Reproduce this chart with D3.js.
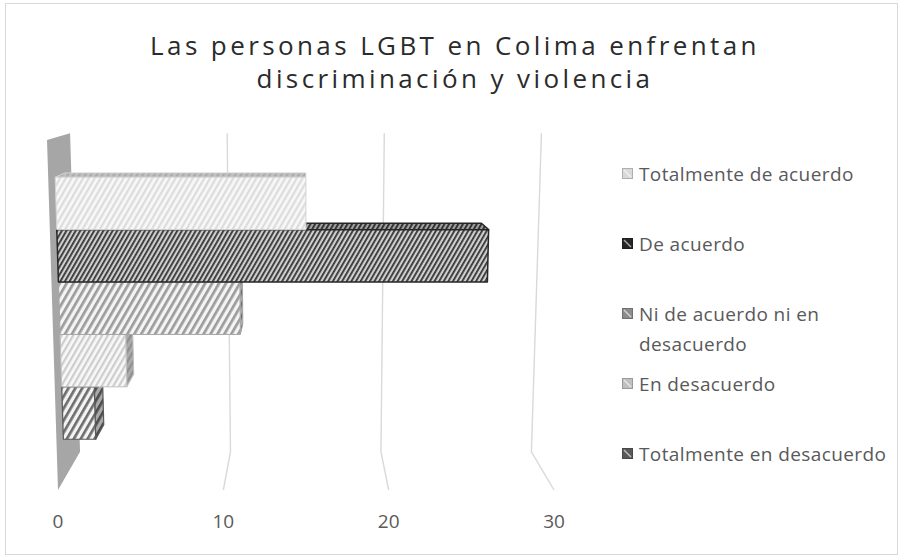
<!DOCTYPE html>
<html>
<head>
<meta charset="utf-8">
<script src="https://cdn.jsdelivr.net/npm/d3@7"></script>
<style>
  body { margin: 0; background: #fff; }
  svg text { font-family: "Open Sans", sans-serif; }
</style>
</head>
<body>
<div id="chart"></div>
<script>
// data
const series = ["Totalmente de acuerdo", "De acuerdo", "Ni de acuerdo ni en desacuerdo", "En desacuerdo", "Totalmente en desacuerdo"];
const values = [15, 26, 11, 4, 2];
const tickValues = [0, 10, 20, 30];
const titleLines = ["Las personas LGBT en Colima enfrentan", "discriminación y violencia"];
const legendLines = [["Totalmente de acuerdo"], ["De acuerdo"], ["Ni de acuerdo ni en", "desacuerdo"], ["En desacuerdo"], ["Totalmente en desacuerdo"]];

// pattern look per series: background, stripe, stripe period, border, legend swatch
const looks = [
    { bg: "#f8f8f8", fg: "#dcdcdc", period: 5, border: "#d4d4d4", bw: 1, swatch: "#d9d9d9" },
    { bg: "#cfcfcf", fg: "#353535", period: 4, border: "#262626", bw: 1.5, swatch: "#262626" },
    { bg: "#f4f4f4", fg: "#9c9c9c", period: 6, border: "#a6a6a6", bw: 1, swatch: "#8c8c8c" },
    { bg: "#f8f8f8", fg: "#cdcdcd", period: 5, border: "#c0c0c0", bw: 1, swatch: "#bfbfbf" },
    { bg: "#f4f4f4", fg: "#6e6e6e", period: 6, border: "#595959", bw: 1.2, swatch: "#595959" }
];

const width = 904, height = 559;

// 3d box: front plane corners and the depth vanishing point
const box = { tl: [47, 140], tr: [565, 140], bl: [58, 490], br: [554, 490] };
const vp = [303, 65];
const depthK = 0.09;
const barDepth = [0.3, 0.72];

const x = d3.scaleLinear().domain([0, 30]).range([0, 1]);
const y = d3.scaleBand().domain(series).range([0, 1]).paddingInner(0).paddingOuter(0.75);

// u: value fraction, t: top->bottom fraction, z: front(0)->back(1)
function proj(u, t, z) {
    let tx = box.tl[0] + (box.tr[0] - box.tl[0]) * u;
    let ty = box.tl[1] + (box.tr[1] - box.tl[1]) * u;
    let bx = box.bl[0] + (box.br[0] - box.bl[0]) * u;
    let by = box.bl[1] + (box.br[1] - box.bl[1]) * u;
    let fx = tx + (bx - tx) * t;
    let fy = ty + (by - ty) * t;
    let s = z * depthK;
    return [fx + s * (vp[0] - fx), fy + s * (vp[1] - fy)];
}

const svg = d3.select("#chart").append("svg")
    .attr("width", width)
    .attr("height", height);

// patterns
let defs = svg.append("defs");
looks.forEach((lk, i) => {
    let p = defs.append("pattern")
        .attr("id", "pat" + i)
        .attr("patternUnits", "userSpaceOnUse")
        .attr("width", lk.period)
        .attr("height", lk.period)
        .attr("patternTransform", "rotate(30)");
    p.append("rect").attr("width", lk.period).attr("height", lk.period).attr("fill", lk.bg);
    p.append("rect").attr("width", lk.period * 0.45).attr("height", lk.period).attr("fill", lk.fg);
});

// chart border
svg.append("rect")
    .attr("x", 5.5).attr("y", 3.5)
    .attr("width", 892).attr("height", 551)
    .attr("fill", "#fff")
    .attr("stroke", "#d9d9d9");

// title
svg.append("g").selectAll("text")
    .data(titleLines)
    .enter().append("text")
    .attr("x", 455)
    .attr("y", (d, i) => 55 + i * 33)
    .attr("text-anchor", "middle")
    .attr("font-size", 26)
    .attr("letter-spacing", 3.4)
    .attr("fill", "#2b2b2b")
    .text(d => d);

let line = d3.line();

// left plane (gray)
svg.append("path")
    .attr("d", line([proj(0, 0, 0), proj(0, 0, 1), proj(0, 1, 1), proj(0, 1, 0)]) + "Z")
    .attr("fill", "#a6a6a6");

// gridlines on back wall and bottom wall
tickValues.filter(v => v > 0).forEach(v => {
    svg.append("path")
        .attr("d", line([proj(x(v), 0, 1), proj(x(v), 1, 1), proj(x(v), 1, 0)]))
        .attr("fill", "none")
        .attr("stroke", "#d9d9d9")
        .attr("stroke-width", 1.4);
});

// tick labels
svg.append("g").selectAll("text")
    .data(tickValues)
    .enter().append("text")
    .attr("x", d => proj(x(d), 1, 0)[0])
    .attr("y", 528)
    .attr("text-anchor", "middle")
    .attr("font-size", 19)
    .attr("fill", "#595959")
    .text(d => d);

// bars, bottom series first so upper bars cover hidden top faces
let bars = svg.append("g");
let [zf, zb] = barDepth;
d3.range(series.length - 1, -1, -1).forEach(i => {
    let t0 = y(series[i]), t1 = t0 + y.bandwidth();
    let u0 = x(0), u1 = x(values[i]);
    let lk = looks[i];
    let faces = [];
    // right face if it turns toward the viewer
    if (proj(u1, t0, zb)[0] > proj(u1, t0, zf)[0]) {
        faces.push({ pts: [proj(u1, t0, zf), proj(u1, t0, zb), proj(u1, t1, zb), proj(u1, t1, zf)], shade: 0.3 });
    }
    faces.push({ pts: [proj(u0, t0, zf), proj(u1, t0, zf), proj(u1, t0, zb), proj(u0, t0, zb)], shade: 0.22 });
    faces.push({ pts: [proj(u0, t0, zf), proj(u1, t0, zf), proj(u1, t1, zf), proj(u0, t1, zf)], shade: 0 });
    faces.forEach(f => {
        bars.append("path")
            .attr("d", line(f.pts) + "Z")
            .attr("fill", "url(#pat" + i + ")");
        if (f.shade > 0) {
            bars.append("path")
                .attr("d", line(f.pts) + "Z")
                .attr("fill", "#000")
                .attr("fill-opacity", f.shade);
        }
        bars.append("path")
            .attr("d", line(f.pts) + "Z")
            .attr("fill", "none")
            .attr("stroke", lk.border)
            .attr("stroke-width", lk.bw)
            .attr("stroke-linejoin", "round");
    });
});

// legend
let legend = svg.append("g").attr("transform", "translate(622, 174)");
series.forEach((s, i) => {
    let g = legend.append("g").attr("transform", `translate(0, ${i * 70})`);
    g.append("rect")
        .attr("x", 0.5).attr("y", -5.5)
        .attr("width", 10).attr("height", 10)
        .attr("fill", looks[i].swatch)
        .attr("stroke", d3.color(looks[i].swatch).darker(0.6));
    g.append("line")
        .attr("x1", 2).attr("y1", -4).attr("x2", 9).attr("y2", 3)
        .attr("stroke", "#fff")
        .attr("stroke-opacity", 0.6)
        .attr("stroke-width", 1.5);
    g.selectAll("text")
        .data(legendLines[i])
        .enter().append("text")
        .attr("x", 17)
        .attr("y", (d, j) => j * 30)
        .attr("dy", "0.35em")
        .attr("font-size", 19)
        .attr("letter-spacing", 0.4)
        .attr("fill", "#595959")
        .text(d => d);
});
</script>
</body>
</html>
